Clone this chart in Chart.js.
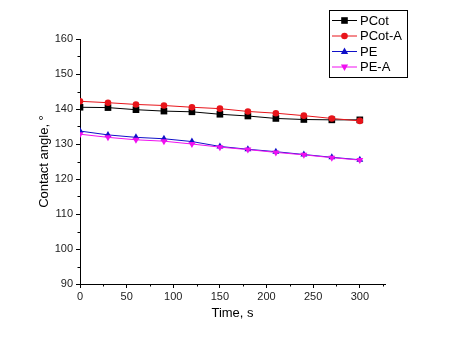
<!DOCTYPE html>
<html>
<head>
<meta charset="utf-8">
<script src="https://cdn.jsdelivr.net/npm/chart.js@4.4.1/dist/chart.umd.min.js"></script>
<style>
  html, body { margin: 0; padding: 0; background: #fff; }
  canvas { display: block; }
</style>
</head>
<body>
<canvas id="angle_graph" width="450" height="343"></canvas>
<script>
// contact angle vs time for the four surfaces
const times = [0, 30, 60, 90, 120, 150, 180, 210, 240, 270, 300];
const pcot = [140.5, 140.4, 139.8, 139.4, 139.2, 138.5, 138.0, 137.3, 137.0, 136.9, 136.9];
const pcotA = [142.2, 141.8, 141.3, 141.0, 140.5, 140.1, 139.3, 138.8, 138.1, 137.3, 136.6];
const pe = [133.7, 132.6, 131.9, 131.5, 130.7, 129.3, 128.5, 127.8, 127.0, 126.2, 125.5];
const peA = [132.8, 131.9, 131.2, 130.8, 130.0, 129.1, 128.4, 127.6, 126.9, 126.1, 125.4];

const timeTicks = [0, 50, 100, 150, 200, 250, 300];
const timeMinor = [25, 75, 125, 175, 225, 275, 325];
const angleTicks = [90, 100, 110, 120, 130, 140, 150, 160];
const angleMinor = [95, 105, 115, 125, 135, 145, 155];

const fontFamily = '"Liberation Sans", Arial, sans-serif';

let series = [
    { label: 'PCot', data: pcot, color: '#000000', shape: 'rect', rotation: 0 },
    { label: 'PCot-A', data: pcotA, color: '#e8141a', shape: 'circle', rotation: 0 },
    { label: 'PE', data: pe, color: '#1010c8', shape: 'triangle', rotation: 0 },
    { label: 'PE-A', data: peA, color: '#f010f0', shape: 'triangle', rotation: 180 }
];

function drawMarker(ctx, shape, rotation, x, y, color) {
    ctx.save();
    ctx.fillStyle = color;
    ctx.translate(x, y);
    ctx.rotate(rotation * Math.PI / 180);
    ctx.beginPath();
    if (shape === 'rect') {
        ctx.rect(-3.3, -3.3, 6.6, 6.6);
    } else if (shape === 'circle') {
        ctx.arc(0, 0, 3.3, 0, Math.PI * 2);
    } else {
        ctx.moveTo(0, -4);
        ctx.lineTo(3.6, 2.4);
        ctx.lineTo(-3.6, 2.4);
        ctx.closePath();
    }
    ctx.fill();
    ctx.restore();
}

// minor ticks and the boxed legend, drawn by hand
const extras = {
    id: 'extras',
    afterDraw(chart) {
        const ctx = chart.ctx;
        const xs = chart.scales.x;
        const ys = chart.scales.y;
        const area = chart.chartArea;
        ctx.save();
        ctx.strokeStyle = '#000';
        ctx.lineWidth = 1;
        ctx.beginPath();
        timeMinor.forEach(function(v) {
            const px = Math.round(xs.getPixelForValue(v)) + 0.5;
            ctx.moveTo(px, area.bottom);
            ctx.lineTo(px, area.bottom + 2.5);
        });
        angleMinor.forEach(function(v) {
            const py = Math.round(ys.getPixelForValue(v)) + 0.5;
            ctx.moveTo(area.left, py);
            ctx.lineTo(area.left - 2.5, py);
        });
        ctx.stroke();

        ctx.strokeRect(329.5, 10.5, 78, 67);
        ctx.font = '13px ' + fontFamily;
        ctx.textBaseline = 'middle';
        ctx.textAlign = 'left';
        series.forEach(function(s, i) {
            const y = 20.5 + i * 15.5;
            ctx.strokeStyle = s.color;
            ctx.beginPath();
            ctx.moveTo(332, y);
            ctx.lineTo(357, y);
            ctx.stroke();
            drawMarker(ctx, s.shape, s.rotation, 344.5, y, s.color);
            ctx.fillStyle = '#000';
            ctx.fillText(s.label, 360, y + 0.5);
        });
        ctx.restore();
    }
};

const datasets = series.map(function(s, i) {
    return {
        label: s.label,
        data: times.map(function(t, j) { return { x: t, y: s.data[j] }; }),
        borderColor: s.color,
        backgroundColor: s.color,
        borderWidth: 1,
        pointStyle: s.shape,
        pointRotation: s.rotation,
        pointRadius: s.shape === 'rect' ? 4.7 : (s.shape === 'circle' ? 3.3 : 4),
        pointBorderWidth: 0,
        tension: 0,
        order: series.length - i
    };
});

const tickFont = { family: fontFamily, size: 11 };
const titleFont = { family: fontFamily, size: 13 };

let chart = new Chart(document.getElementById('angle_graph'), {
    type: 'line',
    data: { datasets: datasets },
    options: {
        responsive: false,
        animation: false,
        events: [],
        layout: { padding: { top: 39, right: 65, left: 0, bottom: 0 } },
        plugins: { legend: { display: false }, tooltip: { enabled: false } },
        scales: {
            x: {
                type: 'linear',
                min: 0,
                max: 327,
                afterBuildTicks: function(scale) {
                    scale.ticks = timeTicks.map(function(v) { return { value: v }; });
                },
                afterFit: function(scale) { scale.height = 59; },
                grid: { drawOnChartArea: false, drawTicks: true, tickLength: 4, tickColor: '#000' },
                border: { display: true, color: '#000', width: 1 },
                ticks: { color: '#222', font: tickFont, padding: 2, maxRotation: 0 },
                title: { display: true, text: 'Time, s', color: '#000', font: titleFont, padding: { top: 0, bottom: 22 } }
            },
            y: {
                type: 'linear',
                min: 90,
                max: 160,
                afterBuildTicks: function(scale) {
                    scale.ticks = angleTicks.map(function(v) { return { value: v }; });
                },
                afterFit: function(scale) { scale.width = 80; },
                grid: { drawOnChartArea: false, drawTicks: true, tickLength: 4, tickColor: '#000' },
                border: { display: true, color: '#000', width: 1 },
                ticks: { color: '#222', font: tickFont, padding: 3 },
                title: { display: true, text: 'Contact angle, °', color: '#000', font: titleFont, padding: { top: 37, bottom: 0 } }
            }
        }
    },
    plugins: [extras]
});
</script>
</body>
</html>
